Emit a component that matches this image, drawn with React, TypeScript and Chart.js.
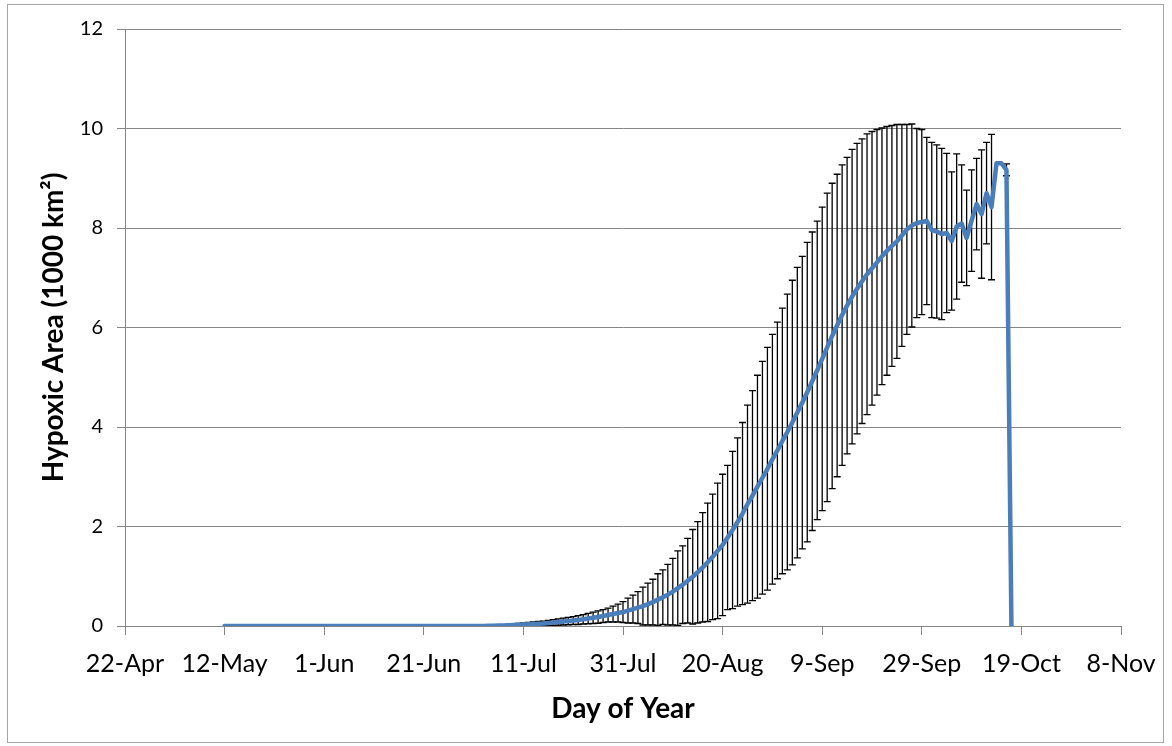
import { useEffect, useRef } from "react";
import { Chart, registerables } from "chart.js";

Chart.register(...registerables);

// x axis: days after 22-Apr; tick every 20 days
const xTickLabels = ["22-Apr", "12-May", "1-Jun", "21-Jun", "11-Jul", "31-Jul", "20-Aug", "9-Sep", "29-Sep", "19-Oct", "8-Nov"];
const xTickStepDays = 20;
const xMaxDays = 200;
const yTicks = [0, 2, 4, 6, 8, 10, 12];

// first data day = 12-May (20 days after 22-Apr), one value per day
const firstDataDay = 20;

// mean hypoxic area (1000 km2), daily from 12-May
const meanArea = [
  0, 0, 0, 0, 0, 0, 0, 0, 0, 0,
  0, 0, 0, 0, 0, 0, 0, 0, 0, 0,
  0, 0, 0, 0, 0, 0, 0, 0, 0, 0,
  0, 0, 0, 0, 0, 0, 0, 0, 0, 0,
  0, 0, 0, 0, 0, 0, 0, 0, 0, 0,
  0, 0, 0,
  0.005, 0.007, 0.01, 0.012, 0.015, 0.02, 0.025, 0.03, 0.035, 0.04,
  0.045, 0.05, 0.06, 0.07, 0.08, 0.09, 0.1, 0.11, 0.12, 0.135,
  0.15, 0.165, 0.18, 0.2, 0.22, 0.24, 0.26, 0.28, 0.31, 0.34,
  0.37, 0.4, 0.44, 0.48, 0.53, 0.58, 0.63, 0.69, 0.76, 0.83,
  0.91, 0.99, 1.08, 1.18, 1.28, 1.39, 1.51, 1.63, 1.78, 1.93,
  2.09, 2.26, 2.45, 2.62, 2.8, 2.98, 3.16, 3.35, 3.53, 3.72,
  3.9, 4.09, 4.29, 4.49, 4.7, 4.92, 5.14, 5.37, 5.6, 5.83,
  6.04, 6.25, 6.44, 6.62, 6.78, 6.93, 7.07, 7.19, 7.31, 7.43,
  7.54, 7.64, 7.73, 7.85, 7.97, 8.05, 8.1, 8.12, 8.14, 7.96,
  7.93, 7.88, 7.9, 7.74, 8.03, 8.09, 7.8, 8.15, 8.48, 8.28,
  8.7, 8.42, 9.3, 9.3, 9.17, 0,
];

// standard deviation (error bar half-length), daily from 12-May
const sdArea = [
  0, 0, 0, 0, 0, 0, 0, 0, 0, 0,
  0, 0, 0, 0, 0, 0, 0, 0, 0, 0,
  0, 0, 0, 0, 0, 0, 0, 0, 0, 0,
  0, 0, 0, 0, 0, 0, 0, 0, 0, 0,
  0, 0, 0, 0, 0, 0, 0, 0, 0, 0,
  0, 0, 0,
  0.005, 0.008, 0.01, 0.013, 0.015, 0.02, 0.025, 0.03, 0.035, 0.04,
  0.045, 0.05, 0.055, 0.06, 0.065, 0.07, 0.075, 0.08, 0.09, 0.095,
  0.105, 0.115, 0.125, 0.13, 0.14, 0.16, 0.18, 0.21, 0.25, 0.28,
  0.32, 0.38, 0.42, 0.46, 0.52, 0.55, 0.61, 0.67, 0.75, 0.78,
  0.85, 0.95, 1.02, 1.1, 1.19, 1.26, 1.36, 1.42, 1.45, 1.58,
  1.69, 1.83, 1.99, 2.11, 2.24, 2.34, 2.44, 2.51, 2.58, 2.67,
  2.77, 2.86, 2.92, 2.94, 3.01, 3.0, 3.0, 3.05, 3.1, 3.07,
  3.04, 3.02, 2.98, 2.96, 2.92, 2.86, 2.82, 2.75, 2.67, 2.58,
  2.5, 2.42, 2.35, 2.23, 2.11, 2.04, 1.9, 1.86, 1.68, 1.76,
  1.74, 1.72, 1.6, 1.39, 1.46, 1.18, 0.96, 1.02, 0.92, 1.29,
  1.02, 1.46, 0, 0, 0.12, 0,
];

const GRAY = "#868686";
const LINE_BLUE = "#4A7EBB";

const errorBarPlugin = {
  id: "errorBars",
  beforeDatasetsDraw(chart: any) {
    const { ctx, chartArea, scales } = chart;
    const xs = scales.x;
    const ys = scales.y;
    ctx.save();
    ctx.beginPath();
    ctx.rect(chartArea.left, chartArea.top - 2, chartArea.right - chartArea.left, chartArea.bottom - chartArea.top + 2);
    ctx.clip();
    ctx.strokeStyle = "#000000";
    ctx.lineWidth = 1.3;
    const half = 3.5;
    meanArea.forEach((m, i) => {
      const s = sdArea[i];
      if (!s) return;
      const px = xs.getPixelForValue(firstDataDay + i);
      const yt = ys.getPixelForValue(m + s);
      const yb = ys.getPixelForValue(m - s);
      ctx.beginPath();
      ctx.moveTo(px, yt);
      ctx.lineTo(px, yb);
      ctx.moveTo(px - half, yt);
      ctx.lineTo(px + half, yt);
      ctx.moveTo(px - half, yb);
      ctx.lineTo(px + half, yb);
      ctx.stroke();
    });
    ctx.restore();
  },
};

const framePlugin = {
  id: "frame",
  beforeDraw(chart: any) {
    const { ctx, width, height } = chart;
    ctx.save();
    ctx.fillStyle = "#ffffff";
    ctx.fillRect(0, 0, width, height);
    ctx.strokeStyle = "#a6a6a6";
    ctx.lineWidth = 1;
    ctx.strokeRect(7.5, 4.5, 1156, 738);
    ctx.restore();
  },
};

export default function App() {
  const canvasRef = useRef<HTMLCanvasElement | null>(null);

  useEffect(() => {
    const canvas = canvasRef.current;
    if (!canvas) return;
    const points = meanArea.map((v, i) => ({ x: firstDataDay + i, y: v }));
    const chart = new Chart(canvas, {
      type: "line",
      data: {
        datasets: [
          {
            data: points,
            borderColor: LINE_BLUE,
            borderWidth: 4.5,
            pointRadius: 0,
            pointHoverRadius: 0,
            tension: 0,
            fill: false,
            borderJoinStyle: "round",
            borderCapStyle: "round",
          },
        ],
      },
      options: {
        animation: false,
        responsive: false,
        devicePixelRatio: 1,
        events: [],
        layout: { padding: { left: 37, top: 29, right: 51, bottom: 20 } },
        plugins: { legend: { display: false }, tooltip: { enabled: false } },
        scales: {
          x: {
            type: "linear",
            min: 0,
            max: xMaxDays,
            afterBuildTicks: (scale: any) => {
              scale.ticks = xTickLabels.map((_, i) => ({ value: i * xTickStepDays }));
            },
            afterFit: (scale: any) => {
              scale.height = 100;
              scale.paddingLeft = 0;
              scale.paddingRight = 0;
            },
            grid: {
              drawOnChartArea: false,
              drawTicks: true,
              tickLength: 9,
              color: GRAY,
              lineWidth: 1,
            },
            border: { display: true, color: GRAY, width: 1 },
            ticks: {
              autoSkip: false,
              maxRotation: 0,
              padding: 14,
              color: "#000000",
              font: { family: "Lato", size: 25 },
              callback: (_v: any, i: number) => xTickLabels[i],
            },
            title: {
              display: true,
              text: "Day of Year",
              color: "#000000",
              padding: 0,
              font: { family: "Lato", size: 28, weight: "bold" },
            },
          },
          y: {
            min: 0,
            max: 12,
            afterBuildTicks: (scale: any) => {
              scale.ticks = yTicks.map((v) => ({ value: v }));
            },
            afterFit: (scale: any) => {
              scale.width = 88;
              scale.paddingTop = 0;
              scale.paddingBottom = 0;
            },
            grid: {
              drawTicks: true,
              tickLength: 8,
              color: GRAY,
              lineWidth: 1,
            },
            border: { display: true, color: GRAY, width: 1 },
            ticks: {
              padding: 14,
              color: "#000000",
              font: { family: "Lato", size: 20 },
            },
            title: {
              display: true,
              text: "Hypoxic Area (1000 km²)",
              color: "#000000",
              padding: 0,
              font: { family: "Lato", size: 28, weight: "bold" },
            },
          },
        },
      },
      plugins: [framePlugin, errorBarPlugin],
    } as any);
    return () => chart.destroy();
  }, []);

  return (
    <div style={{ position: "fixed", left: 0, top: 0, width: 1172, height: 746, background: "#fff" }}>
      <canvas ref={canvasRef} width={1172} height={746} style={{ display: "block" }} />
    </div>
  );
}
